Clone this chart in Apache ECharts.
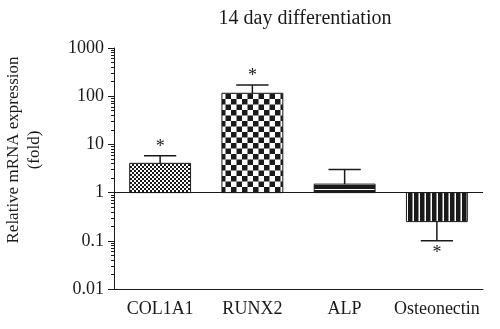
<!DOCTYPE html>
<html>
	<head>
		<meta charset="UTF-8">
		<title>14 day differentiation</title>
		<script src="https://cdn.jsdelivr.net/npm/echarts@6/dist/echarts.min.js"></script>
		<style type="text/css">
			html,body{ margin:0; padding:0; background:#fff; }
		</style>
	</head>
	<body>
		<div id="chart1" style="width: 500px; height: 329px;"></div>
	</body>
</html>
<script type="text/javascript">
	// data (fold change, log axis, bars start at 1)
	var categories = ['COL1A1', 'RUNX2', 'ALP', 'Osteonectin'];
	var foldValues = [4.05, 115, 1.5, 0.25];
	var errorEnds = [5.8, 170, 3.0, 0.1];
	var significant = [true, true, false, true];

	var ink = '#1a1a1a';
	var font = '"Liberation Serif", "DejaVu Serif", serif';

	// fill patterns for the 4 bars
	function makeTile(w, h, draw) {
		var c = document.createElement('canvas');
		c.width = w; c.height = h;
		var ctx = c.getContext('2d');
		ctx.fillStyle = '#fff';
		ctx.fillRect(0, 0, w, h);
		ctx.fillStyle = ink;
		draw(ctx);
		return { image: c, repeat: 'repeat' };
	}
	var patterns = [
		makeTile(4, 4, function(ctx) { // fine check
			ctx.fillRect(0, 0, 2, 2);
			ctx.fillRect(2, 2, 2, 2);
			ctx.fillRect(1, 0, 1, 1);
		}),
		makeTile(11, 11, function(ctx) { // big checkerboard
			ctx.fillRect(0, 0, 5.5, 5.5);
			ctx.fillRect(5.5, 5.5, 5.5, 5.5);
		}),
		makeTile(4, 5, function(ctx) { // horizontal stripes
			ctx.fillRect(0, 0, 4, 4);
		}),
		makeTile(6, 4, function(ctx) { // vertical stripes
			ctx.fillRect(0, 0, 4.5, 4);
		})
	];

	var chart1 = echarts.init(document.getElementById('chart1'));

	var barData = categories.map(function(c, i) { return [i, foldValues[i]]; });
	var errData = categories.map(function(c, i) { return [i, foldValues[i], errorEnds[i], significant[i] ? 1 : 0]; });

	var option = {
		backgroundColor: '#fff',
		animation: false,
		title: {
			text: '14 day differentiation',
			left: 300,
			top: 4,
			textAlign: 'center',
			textStyle: { fontFamily: font, fontWeight: 'normal', fontSize: 20, color: ink }
		},
		grid: { left: 114, right: 17, top: 48, bottom: 40 },
		xAxis: {
			type: 'category',
			data: categories,
			boundaryGap: true,
			axisLine: { lineStyle: { color: ink, width: 1 } },
			axisTick: { alignWithLabel: true, length: 5, lineStyle: { color: ink } },
			axisLabel: { interval: 0, color: ink, fontFamily: font, fontSize: 18, margin: 11 }
		},
		yAxis: {
			type: 'log',
			logBase: 10,
			min: 0.01,
			max: 1000,
			axisLine: { show: true, lineStyle: { color: ink, width: 1 } },
			axisTick: { show: true, length: 6, lineStyle: { color: ink } },
			minorTick: { show: true, splitNumber: 9, length: 3, lineStyle: { color: ink } },
			splitLine: { show: false },
			axisLabel: {
				color: ink, fontFamily: font, fontSize: 18, margin: 10,
				formatter: function(v) { return String(+v.toPrecision(6)); }
			}
		},
		graphic: [{
			type: 'text',
			x: 24,
			y: 150,
			rotation: Math.PI / 2,
			style: {
				text: 'Relative mRNA expression\n(fold)',
				fill: ink,
				font: '17px ' + font,
				align: 'center',
				verticalAlign: 'middle',
				lineHeight: 21
			}
		}],
		series: [{
			type: 'custom',
			data: barData,
			renderItem: function(params, api) {
				var i = api.value(0);
				var top = api.coord([i, api.value(1)]);
				var base = api.coord([i, 1]);
				var w = api.size([1, 1])[0] * 0.66;
				return {
					type: 'rect',
					shape: { x: top[0] - w / 2, y: Math.min(top[1], base[1]), width: w, height: Math.abs(base[1] - top[1]) },
					style: { fill: patterns[i], stroke: ink, lineWidth: 1 }
				};
			},
			markLine: {
				silent: true,
				symbol: 'none',
				label: { show: false },
				lineStyle: { color: ink, type: 'solid', width: 1 },
				data: [{ yAxis: 1 }]
			},
			z: 2
		}, {
			type: 'custom',
			data: errData,
			renderItem: function(params, api) {
				var i = api.value(0);
				var p0 = api.coord([i, api.value(1)]);
				var p1 = api.coord([i, api.value(2)]);
				var cap = api.size([1, 1])[0] * 0.35;
				var up = p1[1] < p0[1];
				var kids = [
					{ type: 'line', shape: { x1: p0[0], y1: p0[1], x2: p1[0], y2: p1[1] }, style: { stroke: ink, lineWidth: 1.5 } },
					{ type: 'line', shape: { x1: p1[0] - cap / 2, y1: p1[1], x2: p1[0] + cap / 2, y2: p1[1] }, style: { stroke: ink, lineWidth: 1.5 } }
				];
				if (api.value(3)) {
					kids.push({
						type: 'text',
						x: p1[0],
						y: up ? p1[1] - 9 : p1[1] + 12,
						style: { text: '*', fill: ink, font: '18px ' + font, align: 'center', verticalAlign: 'middle' }
					});
				}
				return { type: 'group', children: kids };
			},
			z: 3
		}]
	};

	chart1.setOption(option);
</script>
